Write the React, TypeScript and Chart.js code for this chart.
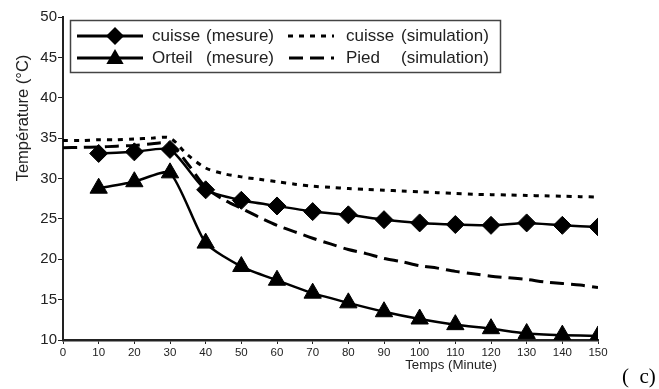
import React, { useEffect, useRef } from 'react';
import { Chart, registerables } from 'chart.js';

Chart.register(...registerables);

// ---- data ----
const measureTimes = [10, 20, 30, 40, 50, 60, 70, 80, 90, 100, 110, 120, 130, 140, 150];
const cuisseMesure = [33.1, 33.3, 33.6, 28.6, 27.3, 26.6, 25.9, 25.5, 24.9, 24.5, 24.3, 24.2, 24.5, 24.2, 24.0];
const orteilMesure = [28.8, 29.6, 30.7, 22.0, 19.1, 17.4, 15.8, 14.6, 13.5, 12.6, 11.9, 11.4, 10.8, 10.6, 10.5];

const simTimes = [0, 5, 10, 15, 20, 25, 30, 35, 40, 45, 50, 55, 60, 65, 70, 75, 80, 85, 90, 95, 100, 105, 110, 115, 120, 125, 130, 135, 140, 145, 150];
const cuisseSim = [34.7, 34.7, 34.8, 34.8, 34.9, 35.0, 35.0, 32.9, 31.3, 30.6, 30.2, 29.9, 29.6, 29.3, 29.05, 28.9, 28.75, 28.65, 28.55, 28.45, 28.35, 28.25, 28.15, 28.05, 28.0, 27.95, 27.9, 27.85, 27.8, 27.75, 27.7];
const piedSim = [33.8, 33.85, 33.9, 34.0, 34.1, 34.3, 34.3, 31.8, 28.9, 27.4, 26.3, 25.2, 24.2, 23.4, 22.6, 21.9, 21.2, 20.7, 20.1, 19.7, 19.2, 18.9, 18.5, 18.2, 17.9, 17.7, 17.5, 17.2, 17.0, 16.8, 16.5];

const seriesNames = ['cuisse', 'Orteil', 'cuisse', 'Pied'];
const seriesKinds = ['(mesure)', '(mesure)', '(simulation)', '(simulation)'];
const yTitle = 'Température (°C)';
const xTitle = 'Temps (Minute)';
const panelLabel = '(  c)';

const FONT = '"Liberation Sans", Arial, sans-serif';
const TEXT = '#222';

function diamond(ctx: CanvasRenderingContext2D, x: number, y: number, r: number) {
  ctx.beginPath();
  ctx.moveTo(x - r, y);
  ctx.lineTo(x, y - r);
  ctx.lineTo(x + r, y);
  ctx.lineTo(x, y + r);
  ctx.closePath();
  ctx.fill();
}
function triangle(ctx: CanvasRenderingContext2D, x: number, y: number, r: number) {
  const h = Math.cos(Math.PI / 6) * r;
  ctx.beginPath();
  ctx.moveTo(x - h, y + r / 2);
  ctx.lineTo(x, y - r);
  ctx.lineTo(x + h, y + r / 2);
  ctx.closePath();
  ctx.fill();
}

const annotationPlugin = {
  id: 'annot',
  afterDraw(chart: any) {
    const ctx: CanvasRenderingContext2D = chart.ctx;
    ctx.save();
    // legend box
    ctx.strokeStyle = '#444';
    ctx.lineWidth = 1.5;
    ctx.setLineDash([]);
    ctx.fillStyle = '#fff';
    ctx.fillRect(71, 21, 429, 51);
    ctx.strokeRect(70.5, 20.5, 430, 52);

    const rows = [36, 58];
    ctx.strokeStyle = '#000';
    ctx.fillStyle = '#000';
    ctx.lineWidth = 3;
    rows.forEach((y, i) => {
      ctx.beginPath();
      ctx.moveTo(77, y);
      ctx.lineTo(143, y);
      ctx.stroke();
      if (i === 0) diamond(ctx, 115, y, 9);
      else triangle(ctx, 115, y + 1, 10);
    });
    // simulation samples
    ctx.lineWidth = 3;
    ctx.setLineDash([5, 6]);
    ctx.beginPath();
    ctx.moveTo(288, 36);
    ctx.lineTo(334, 36);
    ctx.stroke();
    ctx.setLineDash([14, 7]);
    ctx.beginPath();
    ctx.moveTo(289, 58);
    ctx.lineTo(334, 58);
    ctx.stroke();
    ctx.setLineDash([]);

    ctx.fillStyle = TEXT;
    ctx.font = `17px ${FONT}`;
    ctx.textBaseline = 'middle';
    ctx.textAlign = 'left';
    ctx.fillText(seriesNames[0], 152, 36);
    ctx.fillText(seriesKinds[0], 206, 36);
    ctx.fillText(seriesNames[1], 152, 58);
    ctx.fillText(seriesKinds[1], 206, 58);
    ctx.fillText(seriesNames[2], 346, 36);
    ctx.fillText(seriesKinds[2], 401, 36);
    ctx.fillText(seriesNames[3], 346, 58);
    ctx.fillText(seriesKinds[3], 401, 58);

    // axis titles
    ctx.font = `16.5px ${FONT}`;
    ctx.textAlign = 'center';
    ctx.save();
    ctx.translate(23, 118);
    ctx.rotate(-Math.PI / 2);
    ctx.fillText(yTitle, 0, 0);
    ctx.restore();

    ctx.font = `13.3px ${FONT}`;
    ctx.fillText(xTitle, 451, 365);

    ctx.font = '21px "Liberation Serif", "Times New Roman", serif';
    ctx.fillStyle = '#000';
    ctx.textAlign = 'left';
    ctx.fillText(panelLabel, 622, 377);
    ctx.restore();
  },
};

export default function App() {
  const ref = useRef<HTMLCanvasElement | null>(null);
  useEffect(() => {
    if (!ref.current) return;
    const toPts = (xs: number[], ys: number[]) => xs.map((x, i) => ({ x, y: ys[i] }));
    const chart = new Chart(ref.current, {
      type: 'line',
      data: {
        datasets: [
          {
            label: 'cuisse (simulation)',
            data: toPts(simTimes, cuisseSim),
            borderColor: '#000',
            borderWidth: 3,
            borderDash: [5, 6],
            pointRadius: 0,
            tension: 0.3,
            fill: false,
          },
          {
            label: 'Pied (simulation)',
            data: toPts(simTimes, piedSim),
            borderColor: '#000',
            borderWidth: 3,
            borderDash: [14, 7],
            pointRadius: 0,
            tension: 0.3,
            fill: false,
          },
          {
            label: 'cuisse (mesure)',
            data: toPts(measureTimes, cuisseMesure),
            borderColor: '#000',
            backgroundColor: '#000',
            borderWidth: 2.5,
            pointStyle: 'rectRot',
            pointRadius: 9,
            pointBorderWidth: 1,
            tension: 0.2,
            fill: false,
          },
          {
            label: 'Orteil (mesure)',
            data: toPts(measureTimes, orteilMesure),
            borderColor: '#000',
            backgroundColor: '#000',
            borderWidth: 2.5,
            pointStyle: 'triangle',
            pointRadius: 10,
            pointBorderWidth: 1,
            tension: 0.2,
            fill: false,
          },
        ],
      },
      options: {
        animation: false,
        responsive: true,
        maintainAspectRatio: false,
        layout: { padding: { top: 17, right: 61, left: 0, bottom: 0 } },
        plugins: { legend: { display: false }, tooltip: { enabled: false } },
        scales: {
          x: {
            type: 'linear',
            min: 0,
            max: 150,
            ticks: {
              stepSize: 10,
              color: TEXT,
              font: { family: FONT, size: 11.5 },
              padding: 2,
              maxRotation: 0,
              autoSkip: false,
            },
            grid: { drawOnChartArea: false, drawTicks: true, tickLength: 4, color: '#222', lineWidth: 1 },
            border: { display: true, color: '#222', width: 2.5 },
            afterFit: (s: any) => {
              s.height = 49;
            },
          },
          y: {
            type: 'linear',
            min: 10,
            max: 50,
            ticks: {
              stepSize: 5,
              color: TEXT,
              font: { family: FONT, size: 15 },
              padding: 1,
            },
            grid: { drawOnChartArea: false, drawTicks: true, tickLength: 5, color: '#222', lineWidth: 1 },
            border: { display: true, color: '#222', width: 2 },
            afterFit: (s: any) => {
              s.width = 63;
            },
          },
        },
      },
      plugins: [annotationPlugin],
    });
    return () => chart.destroy();
  }, []);

  return (
    <div style={{ position: 'fixed', left: 0, top: 0, width: 659, height: 389, background: '#fff' }}>
      <canvas ref={ref} />
    </div>
  );
}
